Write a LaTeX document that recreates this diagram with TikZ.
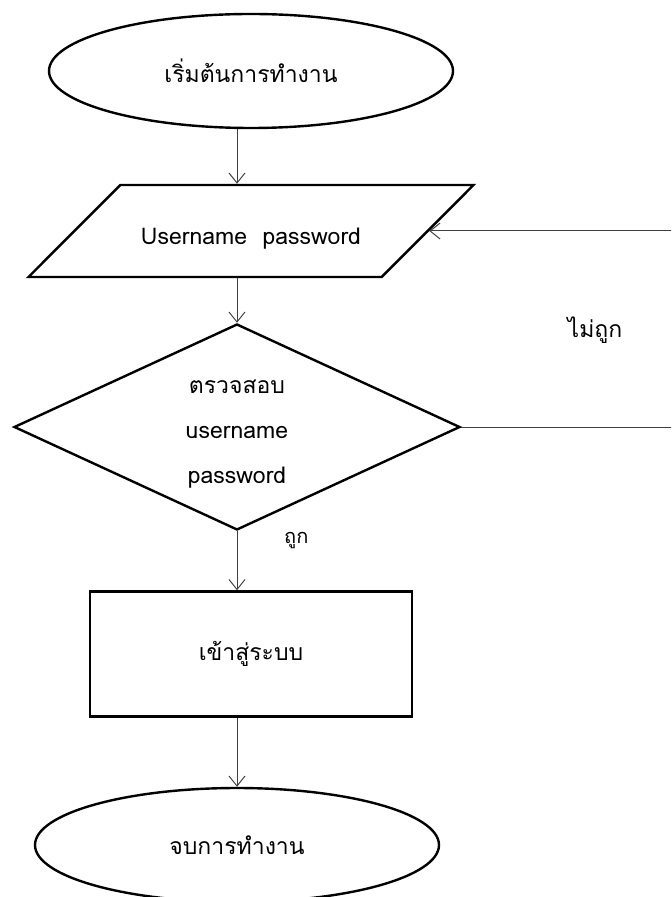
\documentclass[tikz,border=0pt]{standalone}
\usepackage{fontspec}
\setmainfont{Loma}[Script=Thai]
\usetikzlibrary{arrows.meta, shapes.geometric}

\begin{document}
\begin{tikzpicture}[
  x=0.5pt, y=-0.5pt,
  term/.style={ellipse, draw, line width=1.2pt, minimum width=202pt, minimum height=57pt,
               font=\fontsize{11.5}{14}\selectfont},
  io/.style={trapezium, trapezium left angle=31, trapezium right angle=149,
             trapezium stretches=true, draw, line width=1.2pt, minimum width=223pt,
             minimum height=46pt, text height=16pt, text depth=2pt,
             font=\fontsize{11.5}{14}\selectfont},
  decide/.style={diamond, draw, line width=1.2pt, minimum width=223pt, minimum height=103pt,
                 aspect=2.2, inner sep=0pt, align=center, text height=58.5pt,
                 font=\fontsize{11.5}{22.5}\selectfont},
  proc/.style={rectangle, draw, line width=1.2pt, minimum width=161pt, minimum height=62.5pt,
               font=\fontsize{11.5}{14}\selectfont},
  edge/.style={-{Straight Barb[length=5pt,width=8pt]}, draw=black!75, line width=0.5pt},
  lbl/.style={font=\fontsize{11.5}{14}\selectfont},
]
  \useasboundingbox (0,0) rectangle (671,897);
  \clip (0,0) rectangle (671,897);

  \node[term] (start) at (251,71) {เริ่มต้นการทำงาน};
  \node[io] (input) at (251,231) {Username\ \ password};
  \node[decide] (chk) at (237,427) {ตรวจสอบ\\username\\password};
  \node[proc] (login) at (251,654) {เข้าสู่ระบบ};
  \node[term] (stop) at (237,845) {จบการทำงาน};
  \node[lbl] (wrong) at (595,330) {ไม่ถูก};
  \coordinate (back) at (700,427);

  \draw[edge] (start.south -| chk) -- (input.north -| chk);
  \draw[edge] (input.south -| chk) -- (chk.north);
  \draw[edge] (chk.south) -- (login.north -| chk) node[pos=0.15, right=20pt] (right) {ถูก};
  \draw[edge] (login.south -| chk) -- (stop.north);
  \draw[edge] (chk.east) -- (back) |- (input);
\end{tikzpicture}
\end{document}
